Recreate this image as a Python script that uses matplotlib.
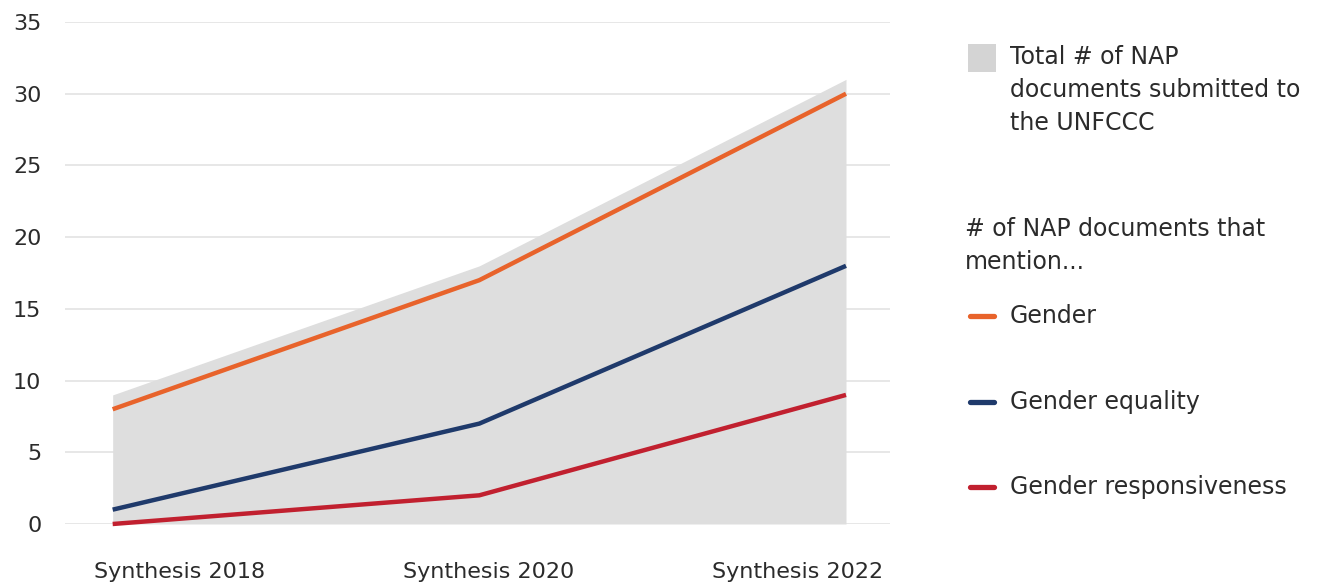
import matplotlib
matplotlib.use('Agg')
import matplotlib.pyplot as plt
from matplotlib.patches import Rectangle
from matplotlib.lines import Line2D

categories = ['Synthesis 2018', 'Synthesis 2020', 'Synthesis 2022']
total_docs = [9, 18, 31]
gender = [8, 17, 30]
gender_equality = [1, 7, 18]
gender_responsiveness = [0, 2, 9]

fill_col = '#dedede'
orange = '#e8632b'
navy = '#1f3a6b'
red = '#c1202f'
text_col = '#2b2b2b'

W, H = 1326, 587
fig = plt.figure(figsize=(W / 100, H / 100), dpi=100)
ax = fig.add_axes([65 / W, 1 - 524 / H, (890 - 65) / W, (524 - 22) / H])

x = list(range(len(categories)))
ax.fill_between(x, 0, total_docs, color=fill_col, lw=0, zorder=1)
for vals, col in [(gender, orange), (gender_equality, navy), (gender_responsiveness, red)]:
    ax.plot(x, vals, color=col, lw=3.2, solid_capstyle='butt', clip_on=False, zorder=3)

ax.set_xlim(-0.13, 2.12)
ax.set_ylim(0, 35)
ax.set_yticks(range(0, 36, 5))
ax.yaxis.grid(True, color='#e3e3e3', lw=1.2, zorder=0)
ax.set_axisbelow(True)
ax.set_xticks([])
for s in ax.spines.values():
    s.set_visible(False)
ax.tick_params(length=0, labelsize=16, labelcolor=text_col)
ax.tick_params(axis='y', pad=17)

# category labels sit spread across the axis width, not under the points
label_pos = [0.139, 0.514, 0.888]
for pos, cat in zip(label_pos, categories):
    ax.text(pos, -48 / 502, cat, transform=ax.transAxes, ha='center', va='center',
            fontsize=16, color=text_col)

# legend, drawn by hand
fs = 17
fig.patches.append(Rectangle((968 / W, 1 - 72 / H), 28 / W, 28 / H,
                             transform=fig.transFigure, color='#d4d4d4', lw=0))
for txt, xx, yy in [('Total # of NAP', 1010, 57), ('documents submitted to', 1010, 90),
                    ('the UNFCCC', 1010, 123), ('# of NAP documents that', 965, 229),
                    ('mention...', 965, 262)]:
    fig.text(xx / W, 1 - yy / H, txt, fontsize=fs, color=text_col, va='center')
for label, col, yy in [('Gender', orange, 316), ('Gender equality', navy, 402),
                       ('Gender responsiveness', red, 487)]:
    fig.lines.append(Line2D([970 / W, 994 / W], [1 - yy / H, 1 - yy / H],
                            transform=fig.transFigure, color=col, lw=3.8,
                            solid_capstyle='round'))
    fig.text(1010 / W, 1 - yy / H, label, fontsize=fs, color=text_col, va='center')

fig.savefig('out.png', dpi=100)
